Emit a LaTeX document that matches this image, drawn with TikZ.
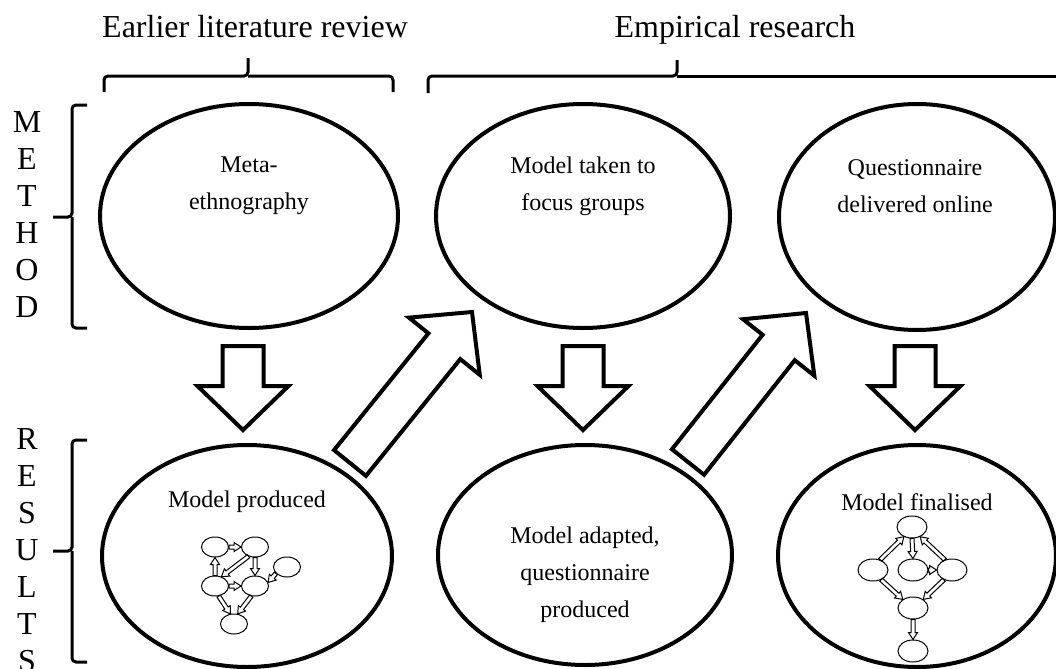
\documentclass[tikz,border=0pt]{standalone}
\usepackage{fontspec}
\setmainfont{Liberation Serif}
\usetikzlibrary{shapes.geometric, calc}

% block arrow: [style]{from}{to}{shaft half width}{head half width}{head length}
\newcommand{\fatarrow}[6][]{%
  \coordinate (fa-h) at ($(#3)!#6!(#2)$);
  \draw[#1] ($(#2)!#4!90:(#3)$) -- ($(fa-h)!#4!90:(#3)$) -- ($(fa-h)!#5!90:(#3)$) -- (#3)
    -- ($(fa-h)!#5!-90:(#3)$) -- ($(fa-h)!#4!-90:(#3)$) -- ($(#2)!#4!-90:(#3)$) -- cycle;}

\begin{document}
\begin{tikzpicture}[x=0.5pt, y=-0.5pt,
    stage/.style={draw, ellipse, line width=2pt, inner sep=0pt},
    mini/.style={draw, ellipse, line width=0.5pt, inner sep=0pt},
    caption/.style={font=\fontsize{12}{18.5}\selectfont, align=center},
    heading/.style={font=\fontsize{16}{19}\selectfont, anchor=base},
    side/.style={font=\fontsize{16}{18.5}\selectfont, align=center, anchor=north, inner sep=0pt},
    brace/.style={line width=1.5pt, rounded corners=2pt},
    big/.style={line width=2pt},
    small/.style={line width=0.5pt}]
  \useasboundingbox (0,0) rectangle (1056,669);

  % headings and braces
  \node[heading] (lit) at (255,38) {Earlier literature review};
  \node[heading] (emp) at (735,38) {Empirical research};
  \draw[brace] (104,92) |- (248,76) -- (248,58);
  \draw[brace] (248,76) -| (393,92);
  \draw[brace] (428,93) |- (677,76) -- (677,60);
  \draw[brace] (677,76) -- (1070,76);

  \node[side] (method) at (27,111) {M\\E\\T\\H\\O\\D};
  \node[side] (results) at (27,428) {R\\E\\S\\U\\L\\T\\S};
  \draw[brace] (87,105) -| (72,217) -- (53,217);
  \draw[brace] (72,217) |- (87,328);
  \draw[brace] (87,440) -| (72,551) -- (53,551);
  \draw[brace] (72,551) |- (87,662);

  % method row
  \node[stage, minimum width=149pt, minimum height=112pt] (m1) at (249,216) {};
  \node[stage, minimum width=147pt, minimum height=112pt] (m2) at (583,216) {};
  \node[stage, minimum width=138pt, minimum height=113pt] (m3) at (917,217) {};
  \node[caption] (m1t) at ($(m1)+(0,-30)$) {Meta-\\ethnography};
  \node[caption] (m2t) at ($(m2)+(0,-30)$) {Model taken to\\focus groups};
  \node[caption] (m3t) at ($(m3)+(-2,-31)$) {Questionnaire\\delivered online};

  % results row
  \node[stage, minimum width=145pt, minimum height=111pt] (r1) at (247,556) {};
  \node[stage, minimum width=147pt, minimum height=110pt] (r2) at (585,555) {};
  \node[stage, minimum width=139pt, minimum height=111pt] (r3) at (917,556) {};
  \node[caption] (r1t) at ($(r1)+(0,-54)$) {Model produced};
  \node[caption] (r2t) at ($(r2)+(0,20)$) {Model adapted,\\questionnaire\\produced};
  \node[caption] (r3t) at ($(r3)+(0,-54)$) {Model finalised};

  % big arrows
  \coordinate (a1s) at ($(m1.south)+(-6,16)$);
  \coordinate (a1e) at ($(r1.north)+(-4,-13)$);
  \coordinate (a2s) at ($(m2.south)+(0,16)$);
  \coordinate (a2e) at ($(r2.north)+(-2,-13)$);
  \coordinate (a3s) at ($(m3.south)+(-2,14)$);
  \coordinate (a3e) at ($(r3.north)+(-2,-13)$);
  \coordinate (d1s) at ($(r1)+(103,-93)$);
  \coordinate (d1e) at ($(m2)+(-111,96)$);
  \coordinate (d2s) at ($(r2)+(103,-93)$);
  \coordinate (d2e) at ($(m3)+(-111,96)$);
  \fatarrow[big]{a1s}{a1e}{10.25pt}{22.75pt}{22pt}
  \fatarrow[big]{a2s}{a2e}{10.25pt}{22.75pt}{22pt}
  \fatarrow[big]{a3s}{a3e}{10.25pt}{22.75pt}{22pt}
  \fatarrow[big]{d1s}{d1e}{10.25pt}{22.75pt}{22pt}
  \fatarrow[big]{d2s}{d2e}{10.25pt}{22.75pt}{22pt}

  % small model inside r1
  \node[mini, minimum width=13.5pt, minimum height=10pt] (p1) at (215,547) {};
  \node[mini, minimum width=13.5pt, minimum height=10pt] (p2) at (255,547) {};
  \node[mini, minimum width=13.5pt, minimum height=10pt] (p3) at (287,567) {};
  \node[mini, minimum width=13.5pt, minimum height=10pt] (p4) at (215,586) {};
  \node[mini, minimum width=13.5pt, minimum height=10pt] (p5) at (255,586) {};
  \node[mini, minimum width=13.5pt, minimum height=10pt] (p6) at (234,624) {};
  \fatarrow[small]{p1.east}{p2.west}{1pt}{2.25pt}{3.5pt}
  \fatarrow[small]{p4.north}{p1.south}{1pt}{2.25pt}{3.5pt}
  \fatarrow[small]{p2.south}{p5.north}{1pt}{2.25pt}{3.5pt}
  \fatarrow[small]{p2.-125}{p4.55}{1pt}{2.25pt}{3.5pt}
  \fatarrow[small]{p3.-150}{p5.15}{1pt}{2.25pt}{3.5pt}
  \fatarrow[small]{p4.east}{p5.west}{1pt}{2.25pt}{3.5pt}
  \fatarrow[small]{p4.-70}{p6.110}{1pt}{2.25pt}{3.5pt}
  \fatarrow[small]{p5.-110}{p6.70}{1pt}{2.25pt}{3.5pt}

  % small model inside r3
  \node[mini, minimum width=15pt, minimum height=11pt] (q1) at (912,527) {};
  \node[mini, minimum width=15pt, minimum height=11pt] (q2) at (873,570) {};
  \node[mini, minimum width=15pt, minimum height=11pt] (q3) at (913,570) {};
  \node[mini, minimum width=15pt, minimum height=11pt] (q4) at (952,570) {};
  \node[mini, minimum width=15pt, minimum height=11pt] (q5) at (913,608) {};
  \node[mini, minimum width=15pt, minimum height=11pt] (q6) at (913,651) {};
  \fatarrow[small]{q1.south}{q3.north}{1pt}{2.25pt}{3.5pt}
  \fatarrow[small]{q3.east}{q4.west}{1pt}{2.25pt}{3.5pt}
  \fatarrow[small]{q2.55}{q1.-130}{1pt}{2.25pt}{3.5pt}
  \fatarrow[small]{q4.125}{q1.-50}{1pt}{2.25pt}{3.5pt}
  \fatarrow[small]{q2.-50}{q5.140}{1pt}{2.25pt}{3.5pt}
  \fatarrow[small]{q4.-130}{q5.40}{1pt}{2.25pt}{3.5pt}
  \fatarrow[small]{q5.south}{q6.north}{1pt}{2.25pt}{3.5pt}
\end{tikzpicture}
\end{document}
